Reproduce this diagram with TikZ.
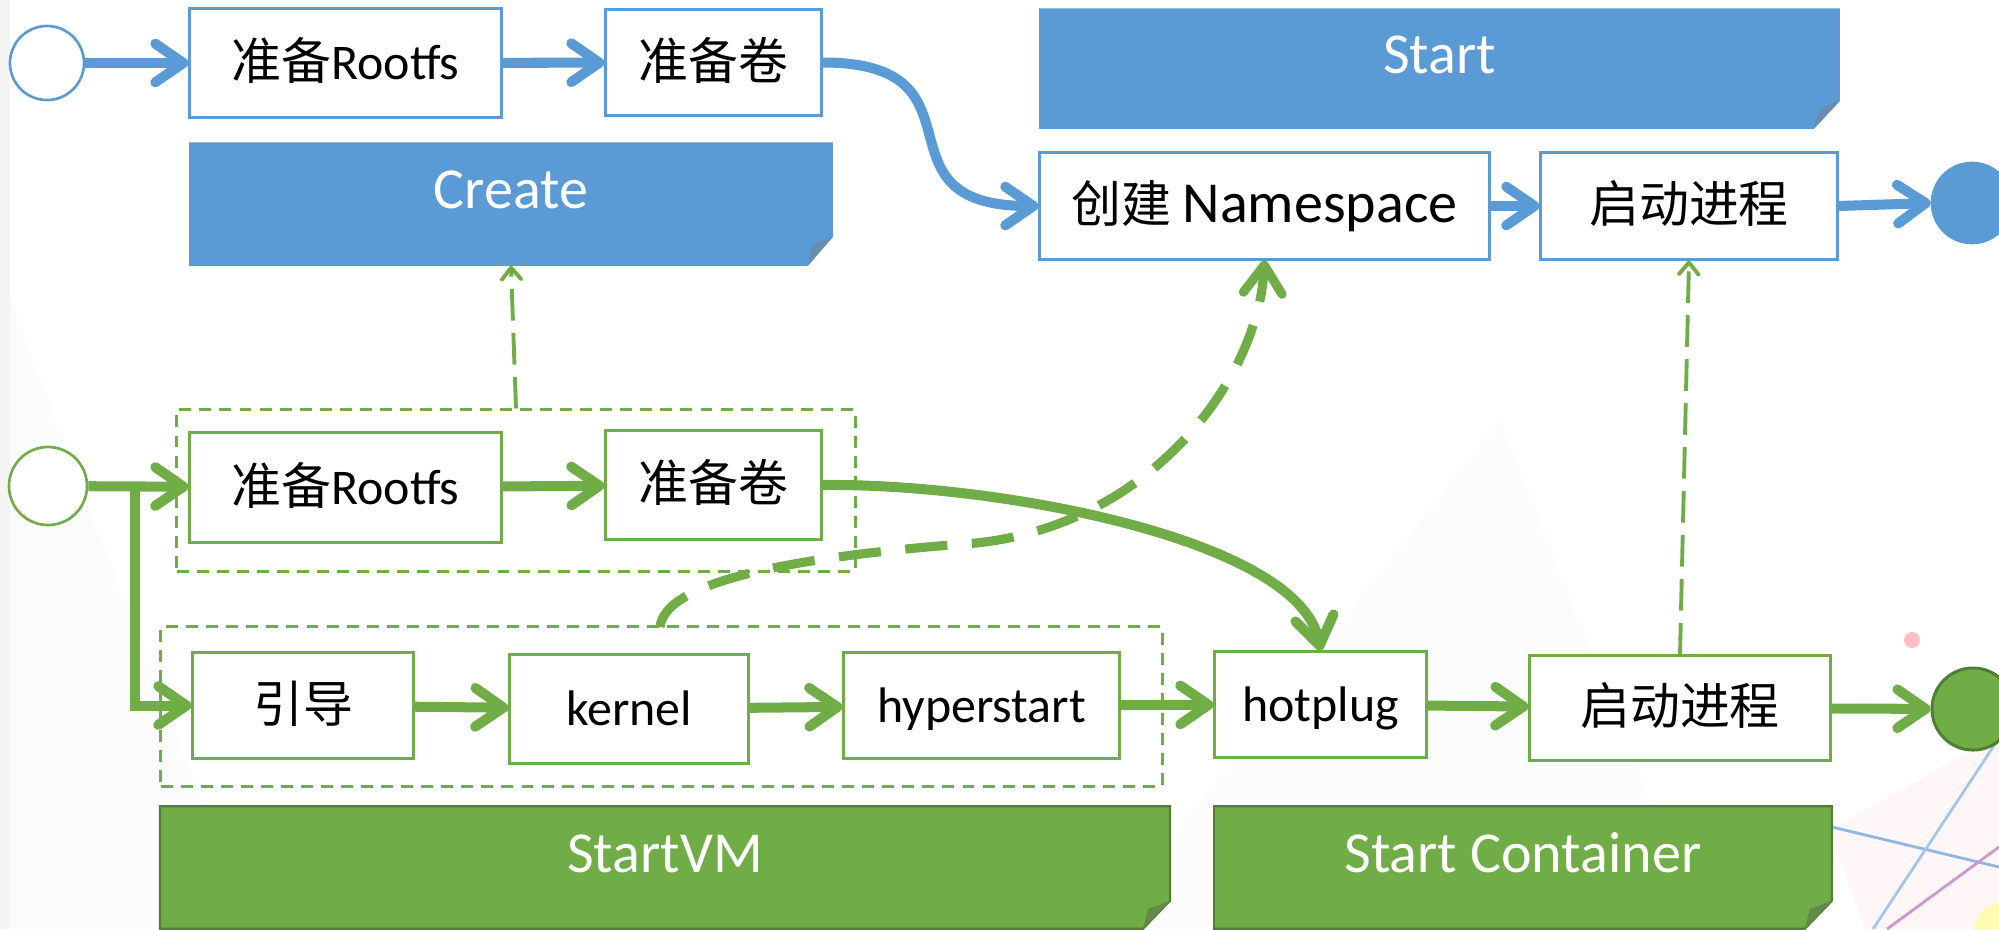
\documentclass[tikz,border=0pt]{standalone}
\usepackage{fontspec}
\setmainfont{Carlito}
\newfontfamily\cjk{Noto Sans CJK SC}
\usetikzlibrary{arrows.meta,calc}
\definecolor{cblue}{HTML}{5B9BD5}
\definecolor{cblued}{HTML}{41719C}
\definecolor{cgreen}{HTML}{70AD47}
\definecolor{cgreend}{HTML}{507E32}
\newcommand\boxfont{\fontsize{14.2pt}{17pt}\selectfont}
\newcommand\bannerfont{\fontsize{16.5pt}{19pt}\selectfont}
\begin{document}
\begin{tikzpicture}[x=0.01cm,y=-0.01cm,
  procbox/.style={draw, line width=0.85pt, fill=white, inner sep=0pt, font=\boxfont, text height=11.9pt, text depth=2.3pt, align=center},
  bproc/.style={procbox, draw=cblue},
  gproc/.style={procbox, draw=cgreen},
  grpbox/.style={draw=cgreen, line width=0.85pt, dash pattern=on 3.4pt off 2.3pt, inner sep=0pt},
  bannerbox/.style={inner sep=0pt},
  bannertext/.style={text=white, font=\bannerfont, anchor=base, inner sep=0pt},
  chev/.tip={Straight Barb[length=8pt,width=11pt,round]},
  smallchev/.tip={Straight Barb[length=3.4pt,width=5.6pt,round]},
  barrow/.style={draw=cblue, line width=2.85pt, -chev},
  garrow/.style={draw=cgreen, line width=2.85pt, -chev},
  gdash/.style={draw=cgreen, line width=2.6pt, dash pattern=on 12pt off 7pt, -chev},
  gthin/.style={draw=cgreen, line width=1.1pt, dash pattern=on 9pt off 3.5pt, -smallchev},
  endpt/.style={circle, inner sep=0pt, line width=0.75pt}
]
\useasboundingbox (0,0) rectangle (1999,929);
% background decoration
\fill[white] (0,0) rectangle (1999,929);
\fill[black!4] (0,0) rectangle (10,929);
\fill[black!1] (10,300) -- (250,929) -- (10,929) -- cycle;
\fill[black!1.2] (1100,929) -- (1500,420) -- (1700,929) -- cycle;
\fill[red!40, opacity=0.08] (1830,830) -- (1999,735) -- (1999,929) -- (1865,929) -- cycle;
\draw[cyan!60!blue!45, line width=0.8pt] (1832,827) -- (1999,867);
\draw[cyan!60!blue!35, line width=0.8pt] (1999,738) -- (1873,929);
\draw[violet!40, line width=0.8pt] (1887,929) -- (1999,847);
\fill[red!25] (1912,640) circle[radius=0.08cm];
\fill[yellow!30] (1999,929) circle[radius=0.25cm];

% banners
\node[bannerbox, minimum width=6.42cm, minimum height=1.22cm] (create) at (511,204) {};
\fill[cblue] (create.north west) -- (create.north east) -- ($(create.south east)+(0,-29)$) -- ($(create.south east)+(-25,0)$) -- (create.south west) -- cycle;
\fill[cblued!80] ($(create.south east)+(0,-29)$) -- ($(create.south east)+(-21,-21)$) -- ($(create.south east)+(-25,0)$) -- cycle;
\node[bannertext] at (511,208) {Create};

\node[bannerbox, minimum width=7.99cm, minimum height=1.19cm] (start) at (1439.5,68.5) {};
\fill[cblue] (start.north west) -- (start.north east) -- ($(start.south east)+(0,-28)$) -- ($(start.south east)+(-26,0)$) -- (start.south west) -- cycle;
\fill[cblued!80] ($(start.south east)+(0,-28)$) -- ($(start.south east)+(-21,-20)$) -- ($(start.south east)+(-26,0)$) -- cycle;
\node[bannertext] at (1439.5,73) {Start};

\node[bannerbox, minimum width=10.08cm, minimum height=1.21cm] (startvm) at (665,867.5) {};
\filldraw[fill=cgreen, draw=cgreend, line width=0.6pt] (startvm.north west) -- (startvm.north east) -- ($(startvm.south east)+(0,-28)$) -- ($(startvm.south east)+(-27,0)$) -- (startvm.south west) -- cycle;
\fill[cgreend!90] ($(startvm.south east)+(0,-28)$) -- ($(startvm.south east)+(-22,-20)$) -- ($(startvm.south east)+(-27,0)$) -- cycle;
\node[bannertext] at (665,872) {StartVM};

\node[bannerbox, minimum width=6.16cm, minimum height=1.21cm] (startc) at (1523,867.5) {};
\filldraw[fill=cgreen, draw=cgreend, line width=0.6pt] (startc.north west) -- (startc.north east) -- ($(startc.south east)+(0,-28)$) -- ($(startc.south east)+(-27,0)$) -- (startc.south west) -- cycle;
\fill[cgreend!90] ($(startc.south east)+(0,-28)$) -- ($(startc.south east)+(-22,-20)$) -- ($(startc.south east)+(-27,0)$) -- cycle;
\node[bannertext] at (1523,872) {Start Container};

% groups
\node[grpbox, minimum width=6.78cm, minimum height=1.61cm] (grp1) at (516,490.5) {};
\node[grpbox, minimum width=10.01cm, minimum height=1.59cm] (grp2) at (661.5,706.5) {};

% blue row
\node[endpt, draw=cblue, fill=white, minimum size=0.74cm] (bc0) at (47,63) {};
\node[bproc, minimum width=3.11cm, minimum height=1.08cm] (b1) at (345.5,63) {{\cjk 准备}Rootfs};
\node[bproc, minimum width=2.15cm, minimum height=1.05cm] (b2) at (713.5,62.5) {{\cjk 准备卷}};
\node[bproc, minimum width=4.49cm, minimum height=1.06cm] (b3) at (1264.5,206) {{\cjk 创建} {\fontsize{16.5pt}{17pt}\selectfont Namespace}};
\node[bproc, minimum width=2.96cm, minimum height=1.06cm] (b4) at (1689,206) {{\cjk 启动进程}};
\node[endpt, draw=cblue, fill=cblue, minimum size=0.80cm] (bc1) at (1972,203) {};

% green row
\node[endpt, draw=cgreen, fill=white, minimum size=0.78cm] (gc0) at (48,486) {};
\node[gproc, minimum width=3.11cm, minimum height=1.09cm] (g1) at (345.5,487.5) {{\cjk 准备}Rootfs};
\node[gproc, minimum width=2.15cm, minimum height=1.08cm] (g2) at (713.5,485) {{\cjk 准备卷}};
\node[gproc, minimum width=2.20cm, minimum height=1.05cm] (g3) at (303,705.5) {{\cjk 引导}};
\node[gproc, minimum width=2.38cm, minimum height=1.08cm] (g4) at (629,709) {kernel};
\node[gproc, minimum width=2.75cm, minimum height=1.05cm] (g5) at (981.5,705.5) {hyperstart};
\node[gproc, minimum width=2.11cm, minimum height=1.05cm] (g6) at (1320.5,704.5) {hotplug};
\node[gproc, minimum width=3.00cm, minimum height=1.04cm] (g7) at (1680,708) {{\cjk 启动进程}};
\node[endpt, draw=cgreend, fill=cgreen, line width=0.85pt, minimum size=0.82cm] (gc1) at (1973,709) {};

% blue connectors
\draw[barrow] (bc0) -- (b1);
\draw[barrow] (b1) -- (b2);
\draw[barrow] (b2.east) to[out=0,in=180,looseness=1.7] (b3.west);
\draw[barrow] (b3) -- (b4);
\draw[barrow] (b4.east) -- (bc1.west);

% green connectors
\coordinate (br) at (135,486);
\draw[garrow] (gc0) -- (g1);
\draw[garrow] (br) |- (g3.west);
\draw[garrow] (g1) -- (g2);
\draw[garrow] (g3) -- (g4);
\draw[garrow] (g4) -- (g5);
\draw[garrow] (g5) -- (g6);
\draw[garrow] (g6) -- (g7);
\draw[garrow] (g7) -- (gc1);
\draw[garrow] (g2.east) .. controls (1000,483) and (1300,540) .. (g6.north);
\coordinate (d1) at (660,627);
\draw[gdash] (d1) .. controls (665,580) and (800,556) .. (976,543) .. controls (1150,525) and (1258,380) .. (b3.south);
\draw[gthin] (grp1.north) -- (create.south);
\draw[gthin] (g7.north) -- (b4.south);
\end{tikzpicture}
\end{document}
